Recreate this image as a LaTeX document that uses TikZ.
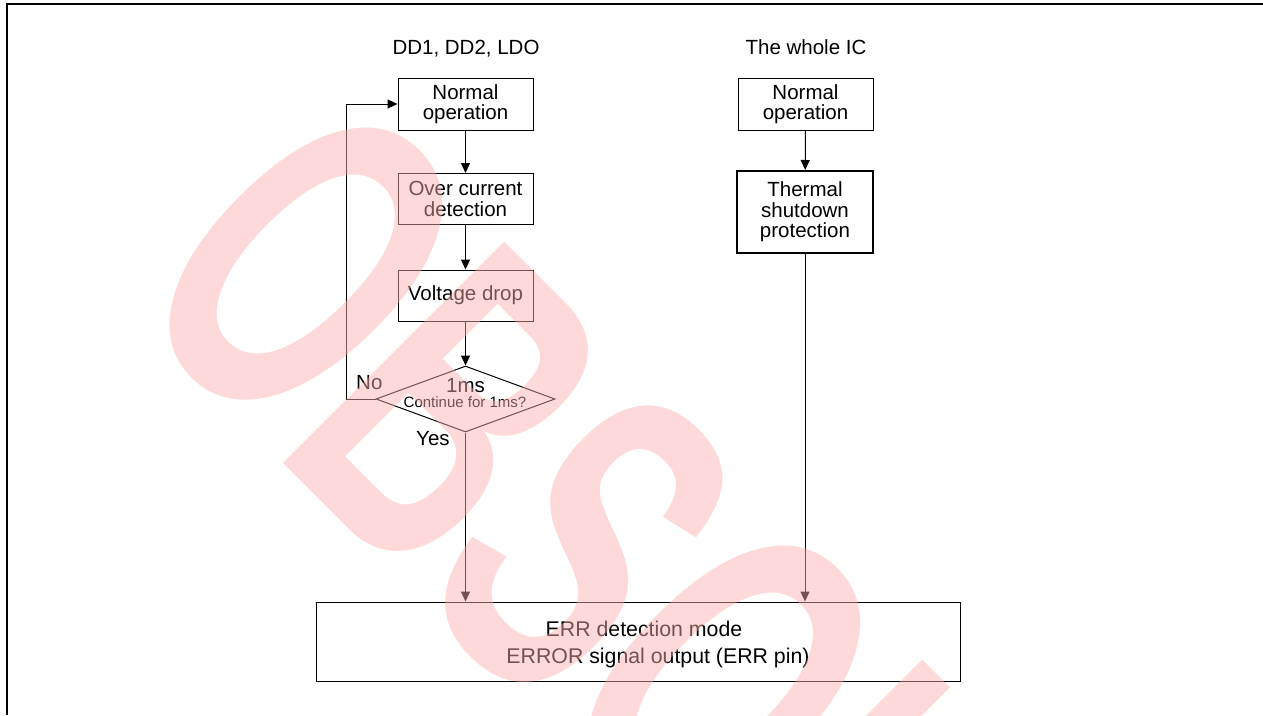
\documentclass[tikz,border=0pt]{standalone}
\usepackage{fontspec}
\setmainfont{Liberation Sans}
\usetikzlibrary{arrows.meta,shapes.geometric}
\definecolor{wmpink}{RGB}{250,175,175}
\begin{document}
\begin{tikzpicture}[x=1pt,y=-1pt,
  box/.style={draw,line width=1pt,minimum width=135pt,minimum height=52pt,inner sep=0pt,align=center,font=\fontsize{20.5}{20.5}\selectfont},
  lbl/.style={anchor=base,inner sep=0pt,font=\fontsize{20.5}{20.5}\selectfont},
  arr/.style={line width=1pt,-{Triangle[length=10pt,width=9pt]}},
  ln/.style={line width=1pt}]
\useasboundingbox (0,0) rectangle (1263,715);
% frame lines
\draw[line width=2.5pt] (7,715) -- (7,4) -- (1263,4);
% titles
\node[lbl] (t1) at (466,54) {DD1, DD2, LDO};
\node[lbl] (t2) at (806,54) {The whole IC};
% left column
\node[box] (n1) at (465.5,104) {Normal\\operation};
\node[box,minimum height=51pt] (oc) at (465.5,199) {Over current\\detection};
\node[box,minimum height=51pt] (vd) at (465.5,295.5) {Voltage drop};
\node[draw,line width=1pt,diamond,aspect=2.71,minimum width=179pt,minimum height=66pt,inner sep=0pt] (dia) at (465.5,399) {};
\node[lbl] (d1) at (465.5,392) {1ms};
\node[lbl,font=\fontsize{15}{15}\selectfont] (d2) at (465,407) {Continue for 1ms?};
\node[lbl,anchor=base west] (no) at (356,389) {No};
\node[lbl,anchor=base west] (yes) at (416,445) {Yes};
% right column
\node[box] (n2) at (805.5,104) {Normal\\operation};
\node[box,line width=2pt,minimum width=136pt,minimum height=82pt] (ts) at (805,212) {Thermal\\shutdown\\protection};
% bottom box
\node[draw,line width=1pt,minimum width=644pt,minimum height=79pt,inner sep=0pt] (err) at (638,641.5) {};
\node[lbl,font=\fontsize{21.3}{21.3}\selectfont] (e1) at (644,636) {ERR detection mode};
\node[lbl,font=\fontsize{21.3}{21.3}\selectfont] (e2) at (658,663) {ERROR signal output (ERR pin)};
% connectors
\draw[arr] (n1) -- (oc);
\draw[arr] (oc) -- (vd);
\draw[arr] (vd) -- (dia.north);
\draw[arr] (dia.south) -- (dia.south |- err.north);
\draw[arr] (dia.west) -- ++(-29,0) |- (n1.west);
\draw[arr] (n2) -- (ts);
\draw[arr] (ts.south) -- (ts.south |- err.north);
% watermark
\node[rotate=-45,xscale=0.6,anchor=base west,inner sep=0pt,text=wmpink,text opacity=0.47,font=\fontsize{455}{455}\selectfont\bfseries] (wm) at (120,300) {OBSOLETE};
\end{tikzpicture}
\end{document}
